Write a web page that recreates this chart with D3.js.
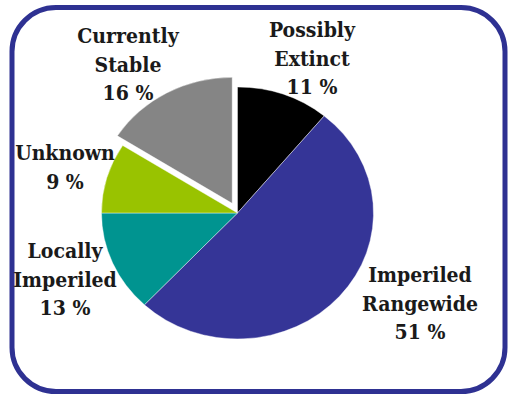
<!DOCTYPE html>
<html><head><meta charset="utf-8">
<script src="https://cdn.jsdelivr.net/npm/d3@7"></script>
<style>html,body{margin:0;padding:0;background:#fff;}svg{display:block;}
.lbl{font-family:"DejaVu Serif Condensed","DejaVu Serif",serif;font-stretch:condensed;font-weight:bold;font-size:21px;fill:#1a1a1a;}
</style>
</head><body>
<script>
// Data
const categories = ["Possibly Extinct", "Imperiled Rangewide", "Locally Imperiled", "Unknown", "Currently Stable"];
const values = [11, 51, 13, 9, 16];
const labelLines = [["Possibly", "Extinct", "11 %"], ["Imperiled", "Rangewide", "51 %"], ["Locally", "Imperiled", "13 %"], ["Unknown", "9 %"], ["Currently", "Stable", "16 %"]];
const colors = ["#000000", "#353597", "#009490", "#99c300", "#858585"];

// Layout
const W = 510, H = 396;
const cx = 237.5, cy = 213, rx = 136, ry = 126;
const explode = {"Currently Stable": 11};
const labelPos = { // center x, first baseline y
  "Possibly Extinct": [312, 37],
  "Imperiled Rangewide": [420, 282],
  "Locally Imperiled": [65, 258],
  "Unknown": [65, 160],
  "Currently Stable": [128, 43]
};

const svg = d3.select("body").append("svg").attr("width", W).attr("height", H);

svg.append("rect").attr("x", 12).attr("y", 7.5).attr("width", 493).attr("height", 384)
  .attr("rx", 44).attr("ry", 44).attr("fill", "#fff").attr("stroke", "#2e3192").attr("stroke-width", 5);

const data = categories.map((c, i) => ({name: c, value: values[i], color: colors[i], lines: labelLines[i]}));
const pie = d3.pie().value(d => d.value).sort(null);
const R = 130;
const arc = d3.arc().innerRadius(0).outerRadius(R);
const arcs = pie(data);

const g = svg.append("g");
arcs.forEach(a => {
  const mid = (a.startAngle + a.endAngle) / 2;
  const off = explode[a.data.name] || 0;
  const ox = Math.sin(mid) * off, oy = -Math.cos(mid) * off;
  g.append("path")
    .attr("d", arc(a))
    .attr("transform", `translate(${cx + ox},${cy + oy}) scale(${rx / R},${ry / R})`)
    .attr("fill", a.data.color)
    .attr("stroke", "#ffffff").attr("stroke-width", 0.4);
});

const lh = 28.5;
const tg = svg.append("g").attr("text-anchor", "middle");
data.forEach(d => {
  const [x, y] = labelPos[d.name];
  const t = tg.append("text").attr("class", "lbl");
  d.lines.forEach((l, i) => t.append("tspan").attr("x", x).attr("y", y + i * lh).text(l));
});
</script>
</body></html>
